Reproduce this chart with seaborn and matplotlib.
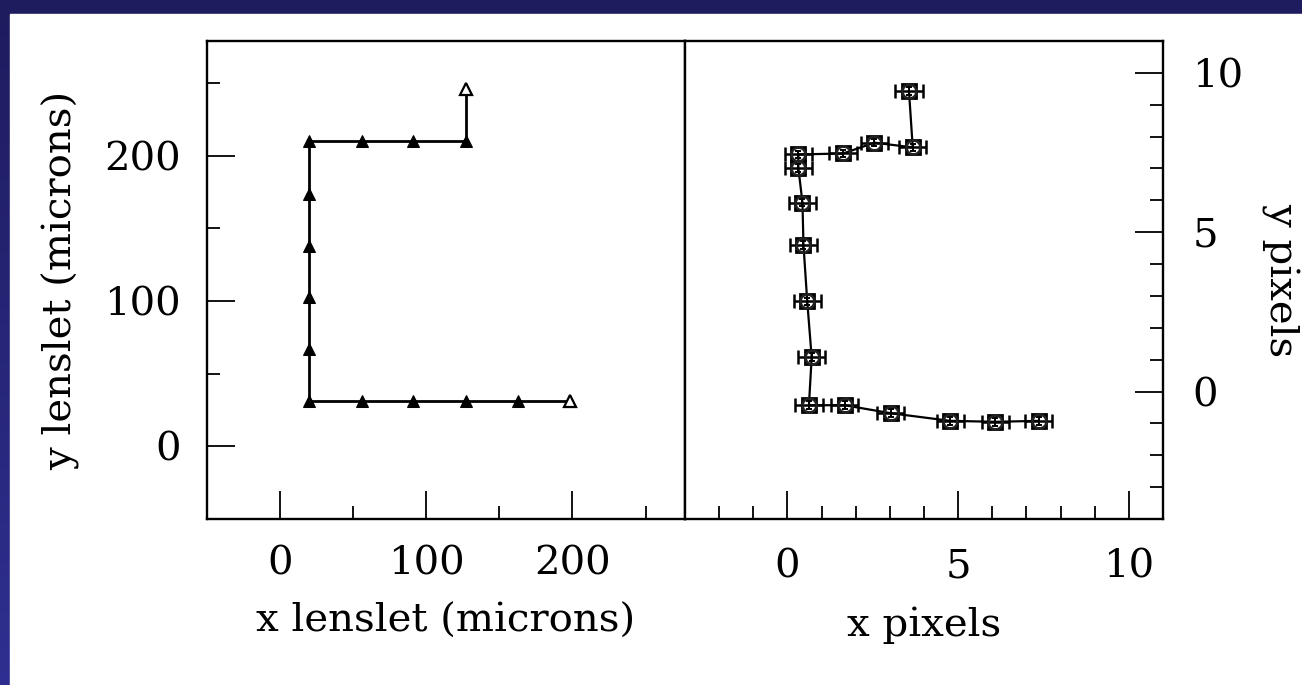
import numpy as np
import pandas as pd
import matplotlib
matplotlib.use("Agg")
import matplotlib.pyplot as plt
from matplotlib.patches import Rectangle
from matplotlib.ticker import MultipleLocator
import seaborn as sns

# lenslet scan path (microns), in scan order
lens_x = [198, 163, 127, 91, 56, 20, 20, 20, 20, 20, 20, 56, 91, 127, 127]
lens_y = [31, 31, 31, 31, 31, 31, 67, 103, 138, 174, 210, 210, 210, 210, 246]

# measured spot centroids (pixels), same order
pix_x = [7.36, 6.09, 4.77, 3.02, 1.68, 0.63, 0.71, 0.58, 0.47, 0.44, 0.32, 0.32, 1.63, 2.55, 3.67, 3.56]
pix_y = [-0.92, -0.95, -0.92, -0.68, -0.43, -0.43, 1.08, 2.83, 4.60, 5.93, 7.02, 7.44, 7.47, 7.81, 7.66, 9.43]
pix_xerr = [0.4] * len(pix_x)
pix_yerr = [0.12] * len(pix_x)

sns.set_theme(style="ticks")
plt.rcParams['font.family'] = ['DejaVu Serif']
plt.rcParams['axes.unicode_minus'] = False
plt.rcParams['axes.labelcolor'] = 'black'
plt.rcParams['text.color'] = 'black'

W, H = 1302, 685
fig = plt.figure(figsize=(W / 100, H / 100), dpi=100)

# dark blue slide border (left + top), gradient top to bottom
bg = fig.add_axes([0, 0, 1, 1], zorder=-10)
grad = np.linspace(0, 1, 256).reshape(-1, 1)
top_c = np.array([30, 28, 94]) / 255
bot_c = np.array([47, 47, 145]) / 255
img = top_c[None, None, :] * (1 - grad[:, :, None]) + bot_c[None, None, :] * grad[:, :, None]
bg.imshow(img, aspect='auto', extent=[0, 1, 0, 1])
bg.add_patch(Rectangle((10 / W, 0), 1, 1 - 14 / H, color='white'))
bg.set_xlim(0, 1)
bg.set_ylim(0, 1)
bg.axis('off')

fs = 29
ax_w, ax_h = 478 / W, 478 / H
y0 = (H - 519) / H
ax1 = fig.add_axes([207 / W, y0, ax_w, ax_h])
ax2 = fig.add_axes([685 / W, y0, ax_w, ax_h])

lens = pd.DataFrame({'x': lens_x, 'y': lens_y})
sns.lineplot(data=lens, x='x', y='y', sort=False, estimator=None, ax=ax1,
             color='black', lw=2, marker='^', markersize=8, mec='black', mfc='black')
ends = lens.iloc[[0, -1]]
ax1.plot(ends['x'], ends['y'], ls='none', marker='^', ms=8, mfc='white', mec='black', mew=1.6, zorder=5)

pix = pd.DataFrame({'x': pix_x, 'y': pix_y, 'xerr': pix_xerr, 'yerr': pix_yerr})
ax2.errorbar(pix['x'], pix['y'], xerr=pix['xerr'], fmt='none', ecolor='black',
             elinewidth=1.8, capsize=5, capthick=1.8)
ax2.errorbar(pix['x'], pix['y'], yerr=pix['yerr'], fmt='none', ecolor='black',
             elinewidth=1.4, capsize=2.5, capthick=1.4)
sns.lineplot(data=pix, x='x', y='y', sort=False, estimator=None, ax=ax2,
             color='black', lw=1.6)
ax2.plot(pix['x'], pix['y'], ls='none', marker='s', ms=9.5, mfc='none', mec='black', mew=2, zorder=5)
ax2.plot(pix['x'], pix['y'], ls='none', marker='o', ms=10, mfc='none', mec='#222222', mew=1.8, zorder=6)

ax1.set_xlim(-50, 277)
ax1.set_ylim(-50, 279)
ax2.set_xlim(-3, 11)
ax2.set_ylim(-4, 11)

for ax in (ax1, ax2):
    for s in ax.spines.values():
        s.set_linewidth(1.7)
        s.set_color('black')
    ax.tick_params(which='major', direction='in', length=20, width=1.3, pad=19,
                   labelsize=fs, colors='black')
    ax.tick_params(which='minor', direction='in', length=9.5, width=1.3, colors='black')

ax1.xaxis.set_major_locator(MultipleLocator(100))
ax1.xaxis.set_minor_locator(MultipleLocator(50))
ax1.yaxis.set_major_locator(MultipleLocator(100))
ax1.yaxis.set_minor_locator(MultipleLocator(50))
ax1.tick_params(which='both', top=False, right=False)

ax2.xaxis.set_major_locator(MultipleLocator(5))
ax2.xaxis.set_minor_locator(MultipleLocator(1))
ax2.yaxis.set_major_locator(MultipleLocator(5))
ax2.yaxis.set_minor_locator(MultipleLocator(1))
ax2.tick_params(which='both', left=False, top=False, right=True,
                labelleft=False, labelright=True)
ax2.tick_params(which='major', pad=21)

ax1.set_xlabel('x lenslet (microns)', fontsize=fs, labelpad=15)
ax1.set_ylabel('y lenslet (microns)', fontsize=fs, labelpad=17)
ax2.set_xlabel('x pixels', fontsize=fs, labelpad=15)
ax2.yaxis.set_label_position('right')
ax2.set_ylabel('y pixels', fontsize=fs, rotation=270, labelpad=40)

fig.savefig('out.png', dpi=100)
